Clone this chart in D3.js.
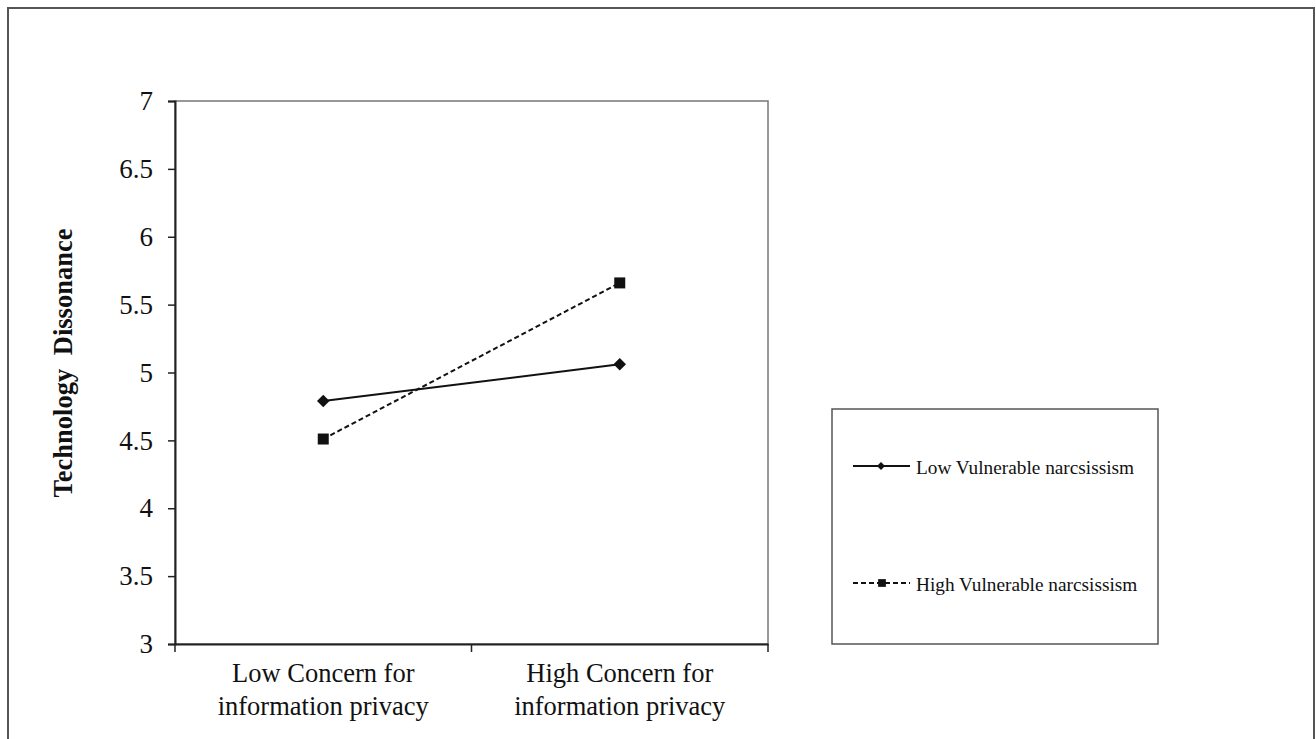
<!DOCTYPE html>
<html><head><meta charset="utf-8">
<script src="https://cdn.jsdelivr.net/npm/d3@7"></script>
<style>body{margin:0;background:#fff}svg{display:block}text{font-family:"Liberation Serif","Times New Roman",serif;fill:#111}</style>
</head><body><svg id="c" width="1316" height="739"></svg>
<script>
const categories = ["Low Concern for|information privacy", "High Concern for|information privacy"];
const seriesNames = ["Low Vulnerable narcsissism", "High Vulnerable narcsissism"];
const lowVulnerable = [4.79, 5.06];
const highVulnerable = [4.51, 5.66];
const yTicks = [3, 3.5, 4, 4.5, 5, 5.5, 6, 6.5, 7];

const svg = d3.select("#c");
svg.append("rect").attr("x",8).attr("y",8).attr("width",1306).attr("height",760)
  .attr("fill","#fff").attr("stroke","#555").attr("stroke-width",2);

const L=175, R=768, T=101, B=644;
const x = d3.scaleBand().domain(categories).range([L,R]).padding(0);
const y = d3.scaleLinear().domain([3,7]).range([B,T]);
const cx = c => x(c)+x.bandwidth()/2;

svg.append("rect").attr("x",L).attr("y",T).attr("width",R-L).attr("height",B-T)
  .attr("fill","none").attr("stroke","#777").attr("stroke-width",1.5);

const ya = svg.append("g").attr("transform",`translate(${L},0)`)
  .call(d3.axisLeft(y).tickValues(yTicks).tickSize(7).tickPadding(15).tickFormat(d=>String(d)));
ya.select(".domain").attr("stroke","#222").attr("stroke-width",2);
ya.selectAll(".tick line").attr("stroke","#222").attr("stroke-width",1.5);
ya.selectAll("text").style("font-size","27px").attr("fill","#111").attr("font-family","Liberation Serif");

const xa = svg.append("g").attr("transform",`translate(0,${B})`)
  .call(d3.axisBottom(x).tickSize(0).tickFormat(""));
xa.select(".domain").attr("stroke","#222").attr("stroke-width",2);
const bounds = [L, ...categories.map(c=>x(c)+x.bandwidth())];
svg.append("g").selectAll("line").data(bounds).join("line")
  .attr("x1",d=>d).attr("x2",d=>d).attr("y1",B).attr("y2",B+8)
  .attr("stroke","#222").attr("stroke-width",1.5);
categories.forEach(c=>{
  const parts=c.split("|");
  const t=svg.append("text").attr("x",cx(c)).attr("text-anchor","middle").style("font-size","26.5px");
  parts.forEach((p,i)=>t.append("tspan").attr("x",cx(c)).attr("y",B+38+i*33).text(p));
});

svg.append("text").attr("transform",`translate(72,363) rotate(-90)`)
  .attr("text-anchor","middle").style("font-size","26.5px").style("font-weight","bold")
  .style("word-spacing","7px")
  .text("Technology Dissonance");

const line = d3.line().x((d,i)=>cx(categories[i])).y(d=>y(d));
svg.append("path").datum(lowVulnerable).attr("d",line).attr("fill","none").attr("stroke","#111").attr("stroke-width",2);
svg.append("path").datum(highVulnerable).attr("d",line).attr("fill","none").attr("stroke","#111").attr("stroke-width",2).attr("stroke-dasharray","5,3");

const diamond = d3.symbol().type(d3.symbolSquare).size(78);
const square = d3.symbol().type(d3.symbolSquare).size(121);
svg.append("g").selectAll("path").data(lowVulnerable).join("path")
  .attr("d",diamond).attr("transform",(d,i)=>`translate(${cx(categories[i])},${y(d)}) rotate(45)`).attr("fill","#111");
svg.append("g").selectAll("path").data(highVulnerable).join("path")
  .attr("d",square).attr("transform",(d,i)=>`translate(${cx(categories[i])},${y(d)})`).attr("fill","#111");

svg.append("rect").attr("x",832).attr("y",409).attr("width",326).attr("height",235)
  .attr("fill","#fff").attr("stroke","#555").attr("stroke-width",1.5);
const legY=[466,583];
svg.append("line").attr("x1",853).attr("x2",910).attr("y1",legY[0]).attr("y2",legY[0]).attr("stroke","#111").attr("stroke-width",2);
svg.append("path").attr("d",d3.symbol().type(d3.symbolSquare).size(32)).attr("transform",`translate(881,${legY[0]}) rotate(45)`).attr("fill","#111");
svg.append("line").attr("x1",853).attr("x2",910).attr("y1",legY[1]).attr("y2",legY[1]).attr("stroke","#111").attr("stroke-width",2).attr("stroke-dasharray","5,3");
svg.append("path").attr("d",d3.symbol().type(d3.symbolSquare).size(60)).attr("transform",`translate(882,${legY[1]})`).attr("fill","#111");
seriesNames.forEach((n,i)=>svg.append("text").attr("x",916).attr("y",legY[i]+8).style("font-size","19.3px").text(n));
</script></body></html>
